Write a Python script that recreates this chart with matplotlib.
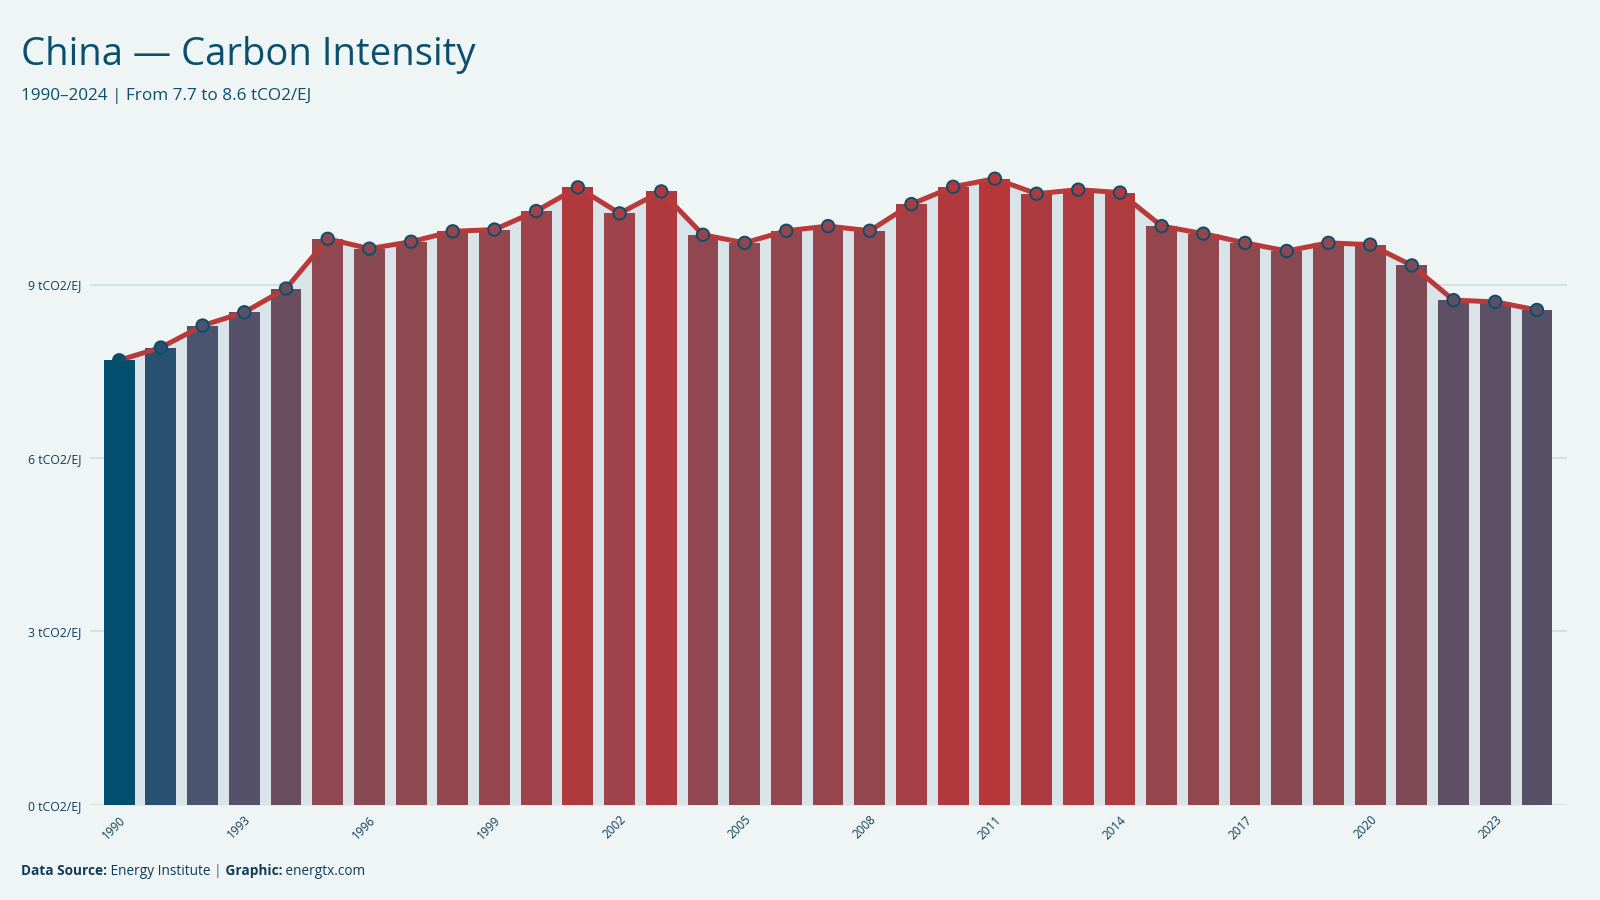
import matplotlib
matplotlib.use("Agg")
import matplotlib.pyplot as plt
import numpy as np
from matplotlib.colors import LinearSegmentedColormap, Normalize

years = list(range(1990, 2025))
intensity = [7.69, 7.91, 8.29, 8.52, 8.93, 9.79, 9.62, 9.74, 9.92, 9.95,
             10.27, 10.68, 10.23, 10.61, 9.86, 9.72, 9.93, 10.01, 9.93, 10.39,
             10.69, 10.83, 10.57, 10.64, 10.59, 10.01, 9.88, 9.72, 9.58, 9.72,
             9.69, 9.33, 8.73, 8.70, 8.56]
ytick_vals = [0, 3, 6, 9]
ytick_labels = ["0 tCO2/EJ", "3 tCO2/EJ", "6 tCO2/EJ", "9 tCO2/EJ"]
xtick_years = list(range(1990, 2025, 3))

BG = "#eff5f5"
DARK = "#0b4f6c"
TXT = "#0d3d5a"
AREA = "#d8e4e8"
LINE = "#b83a3a"

cmap = LinearSegmentedColormap.from_list(
    "bluered",
    [(0.0, "#004f6e"), (0.07, "#2a5070"), (0.18, "#4a5470"), (0.33, "#5e4f64"),
     (0.52, "#7f4a55"), (0.66, "#8e4850"), (0.82, "#a0424a"), (1.0, "#b63639")])
norm = Normalize(vmin=min(intensity), vmax=max(intensity))
colors = [cmap(norm(v)) for v in intensity]

fig = plt.figure(figsize=(16, 9), dpi=100, facecolor=BG)
ax = fig.add_axes([0.05625, 0.1056, 0.9231, 0.7389], facecolor=BG)

ax.fill_between(years, 0, intensity, color=AREA, zorder=1, linewidth=0)
ax.bar(years, intensity, width=0.74, color=colors, zorder=2, linewidth=0)
ax.plot(years, intensity, color=LINE, linewidth=3.6, zorder=3, solid_capstyle="round")
ax.scatter(years, intensity, s=80, c=colors, edgecolors=DARK, linewidths=1.4, zorder=4)

ax.set_xlim(1989.3, 2024.72)
ax.set_ylim(0, 11.5)
ax.set_yticks(ytick_vals)
ax.set_yticklabels(ytick_labels, fontsize=8.8, color=TXT, family="Open Sans")
ax.set_xticks(xtick_years)
ax.set_xticklabels([str(y) for y in xtick_years], rotation=45, ha="right",
                   rotation_mode="anchor", fontsize=8.5, color=TXT, family="Open Sans")
ax.tick_params(axis="both", length=0, pad=6)
ax.grid(axis="y", color="#d3e0e4", linewidth=1.4, zorder=0)
ax.set_axisbelow(True)
for s in ax.spines.values():
    s.set_visible(False)

fig.text(0.0134, 0.928, "China — Carbon Intensity", fontsize=27.5, color=DARK,
         family="Open Sans", va="baseline", ha="left")
fig.text(0.0134, 0.889, "1990–2024 | From 7.7 to 8.6 tCO2/EJ", fontsize=12.3, color=DARK,
         family="Open Sans", va="baseline", ha="left")

# footer
fx, fy = 0.0134, 0.028
renderer = fig.canvas.get_renderer()
parts = [("Data Source:", "bold", TXT), (" Energy Institute ", "normal", TXT),
         ("|", "bold", "#7d98a8"), (" Graphic:", "bold", TXT), (" energtx.com", "normal", TXT)]
x = fx
for txt, w, c in parts:
    t = fig.text(x, fy, txt, fontsize=9.8, fontweight=w, color=c, family="Open Sans",
                 va="baseline", ha="left")
    bb = t.get_window_extent(renderer=renderer)
    x += bb.width / fig.bbox.width

fig.savefig("out.png", dpi=100, facecolor=BG)
